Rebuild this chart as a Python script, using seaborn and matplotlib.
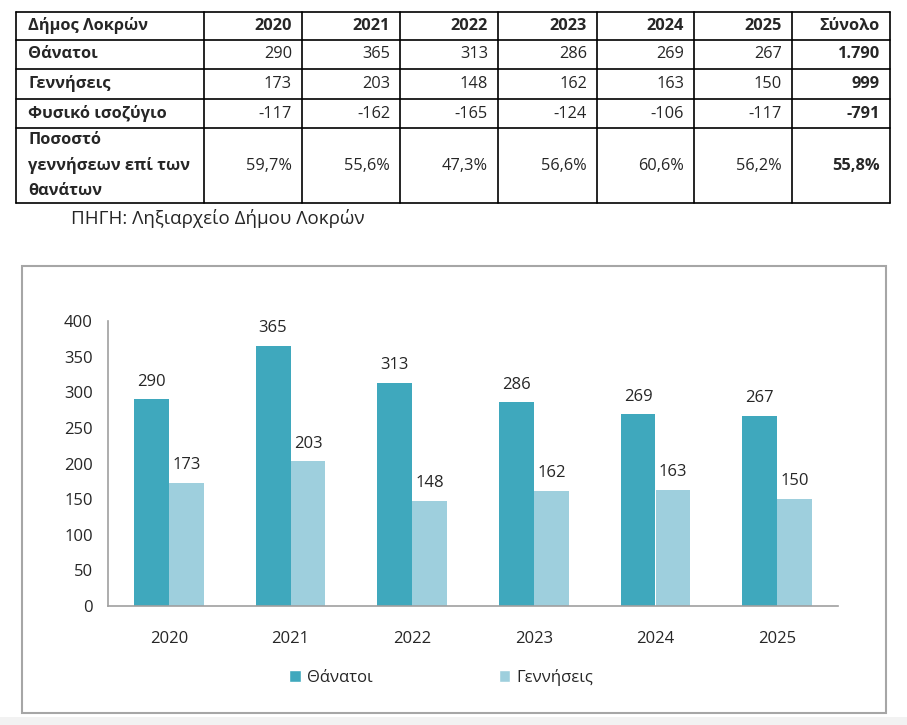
import numpy as np
import pandas as pd
import matplotlib
matplotlib.use('Agg')
import matplotlib.pyplot as plt
import seaborn as sns
from matplotlib.lines import Line2D
from matplotlib.patches import Rectangle, Patch


years = ['2020', '2021', '2022', '2023', '2024', '2025']
deaths = [290, 365, 313, 286, 269, 267]
births = [173, 203, 148, 162, 163, 150]
balance = [-117, -162, -165, -124, -106, -117]
ratio = ['59,7%', '55,6%', '47,3%', '56,6%', '60,6%', '56,2%']
totals = ['1.790', '999', '-791', '55,8%']
row_labels = ['Θάνατοι', 'Γεννήσεις', 'Φυσικό ισοζύγιο', 'Ποσοστό\nγεννήσεων επί των\nθανάτων']
header_label = 'Δήμος Λοκρών'
total_label = 'Σύνολο'
source = 'ΠΗΓΗ: Ληξιαρχείο Δήμου Λοκρών'
series_names = ['Θάνατοι', 'Γεννήσεις']

W, H = 907, 725
dark = '#3FA8BD'
light = '#9ECFDD'

sns.set_style('white')
plt.rcParams['font.family'] = ['Open Sans', 'DejaVu Sans']

fig = plt.figure(figsize=(W / 100, H / 100), dpi=100)


def fx(x):
    return x / W


def fy(y):
    return 1 - y / H


def hline(x0, x1, y, **kw):
    fig.add_artist(Line2D([fx(x0), fx(x1)], [fy(y), fy(y)], color='black', lw=1.2, **kw))


def vline(x, y0, y1, **kw):
    fig.add_artist(Line2D([fx(x), fx(x)], [fy(y0), fy(y1)], color='black', lw=1.2, **kw))


# ---- table ----
col_edges = [16, 204, 302, 400, 498, 597, 694, 792, 890]
row_edges = [12, 40, 69, 99, 128, 203]
for y in row_edges:
    hline(col_edges[0], col_edges[-1], y)
for x in col_edges:
    vline(x, row_edges[0], row_edges[-1])

fs_tab = 11.8
row_mid = [(row_edges[i] + row_edges[i + 1]) / 2 for i in range(len(row_edges) - 1)]

fig.text(fx(col_edges[0] + 12), fy(row_mid[0]), header_label, fontsize=fs_tab,
         fontweight='bold', ha='left', va='center')
for j, yr in enumerate(years):
    fig.text(fx(col_edges[j + 2] - 10), fy(row_mid[0]), yr, fontsize=fs_tab,
             fontweight='bold', ha='right', va='center')
fig.text(fx(col_edges[-1] - 10), fy(row_mid[0]), total_label, fontsize=fs_tab,
         fontweight='bold', ha='right', va='center')

table_rows = [[str(v) for v in deaths], [str(v) for v in births],
              [str(v) for v in balance], ratio]
for i, (lab, vals) in enumerate(zip(row_labels, table_rows)):
    y = row_mid[i + 1]
    fig.text(fx(col_edges[0] + 12), fy(y), lab, fontsize=fs_tab, fontweight='bold',
             ha='left', va='center', linespacing=1.7)
    for j, v in enumerate(vals):
        fig.text(fx(col_edges[j + 2] - 10), fy(y), v, fontsize=fs_tab,
                 ha='right', va='center')
    fig.text(fx(col_edges[-1] - 10), fy(y), totals[i], fontsize=fs_tab,
             fontweight='bold', ha='right', va='center')

fig.text(fx(218), fy(218), source, fontsize=13.5, ha='center', va='center')

# ---- chart frame ----
fig.add_artist(Rectangle((fx(22), fy(713)), fx(886) - fx(22), fy(266) - fy(713),
                         transform=fig.transFigure, fill=False, edgecolor='#A6A6A6', lw=1.5))
fig.add_artist(Rectangle((0, 0), 1, fy(717), transform=fig.transFigure,
                         facecolor='#F2F2F2', edgecolor='none'))

# ---- bar chart ----
ax = fig.add_axes([fx(108), fy(606), fx(838) - fx(108), fy(321) - fy(606)])
df = pd.DataFrame({
    'year': years * 2,
    'value': deaths + births,
    'series': [series_names[0]] * len(years) + [series_names[1]] * len(years),
})
sns.barplot(data=df, x='year', y='value', hue='series', palette=[dark, light],
            width=0.575, ax=ax, legend=False, saturation=1, linewidth=0)

for cont in ax.containers:
    ax.bar_label(cont, padding=7, fontsize=12)

ax.set_ylim(0, 400)
ax.set_xlim(-0.5, len(years) - 0.5)
ax.set_yticks(range(0, 401, 50))
ax.set_xlabel('')
ax.set_ylabel('')
for side in ['top', 'right']:
    ax.spines[side].set_visible(False)
for side in ['left', 'bottom']:
    ax.spines[side].set_color('#A0A0A0')
    ax.spines[side].set_linewidth(1.2)
ax.set_xticks(np.arange(-0.5, len(years), 1), minor=True)
ax.tick_params(axis='x', which='major', length=0, labelsize=12, pad=18)
ax.tick_params(axis='x', which='minor', length=6, color='#A0A0A0', width=1.2, direction='out')
ax.tick_params(axis='y', length=5, color='#A0A0A0', width=1.2, direction='out', labelsize=12, pad=6)

handles = [Patch(facecolor=dark), Patch(facecolor=light)]
fig.legend(handles, series_names, loc='center left', bbox_to_anchor=(fx(274), fy(677)),
           ncol=2, frameon=False, fontsize=12, handlelength=0.7, handleheight=0.7,
           handletextpad=0.35, columnspacing=7.6)

fig.savefig('out.png', dpi=100)
